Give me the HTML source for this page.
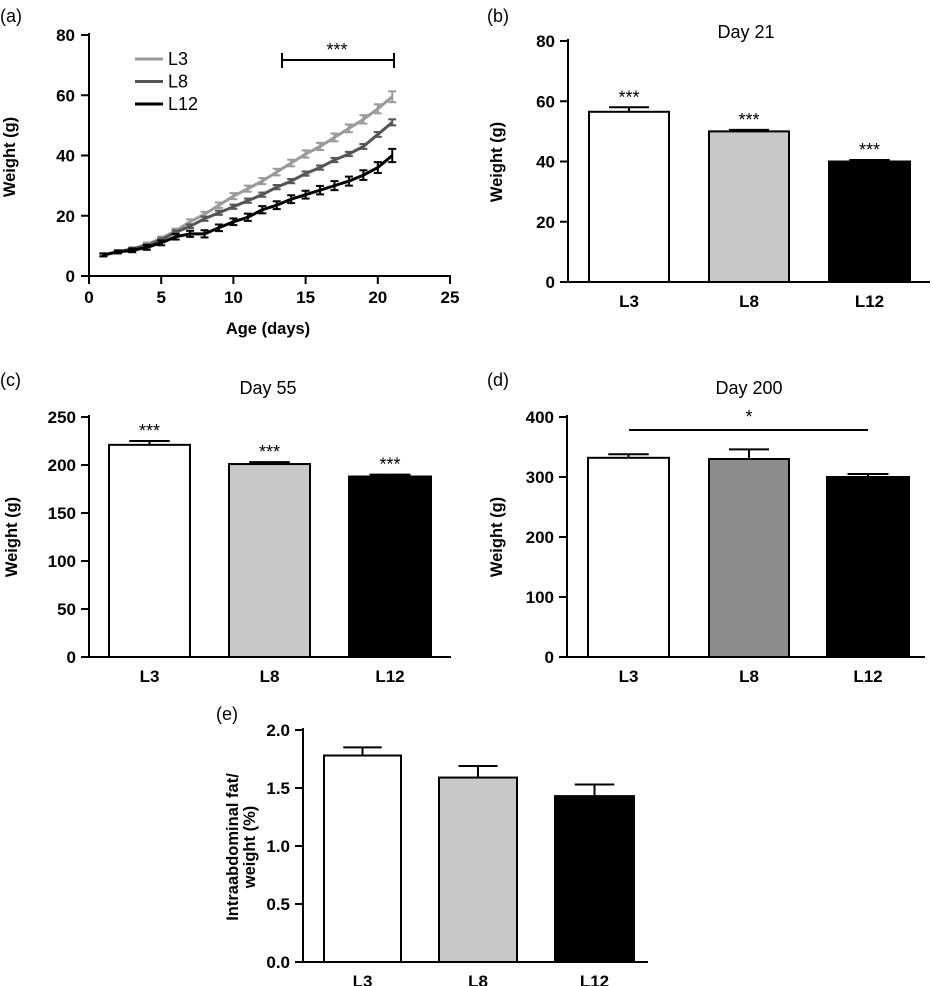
<!DOCTYPE html>
<html><head><meta charset="utf-8">
<style>
html,body{margin:0;padding:0;background:#fff;}
svg{display:block;font-family:"Liberation Sans",Arial,sans-serif;}
.tick{font-size:17px;font-weight:bold;fill:#000;}
.ttl{font-size:16.5px;font-weight:bold;fill:#000;}
.plab{font-size:18px;fill:#000;}
.dt{font-size:18px;fill:#000;}
</style></head>
<body>
<svg id="fig" width="933" height="986" viewBox="0 0 933 986" xmlns="http://www.w3.org/2000/svg"></svg>
<script>
// Panel a data
const days = [1,2,3,4,5,6,7,8,9,10,11,12,13,14,15,16,17,18,19,20,21];
const seriesNames = ["L3","L8","L12"];
const L3w = [7,8,9,10.5,12.5,15,18,20.5,23.5,26.5,29,31.5,34.5,37.5,40.5,43,46,49,52,55.5,59.5];
const L8w = [7,8,9,10,12,14.5,16.5,19,21,23,25,27,29.5,31.5,34,36,38.5,40.5,43,47,51];
const L12w = [7,8,8.5,9.5,11,13,14,14,16,18,19.5,22,23.5,25.5,27,28.5,30,31.5,33.5,36,40];
const L3e = [0.5,0.5,0.5,0.6,0.6,0.7,0.8,0.8,0.9,1,1,1,1.1,1.1,1.2,1.2,1.3,1.3,1.4,1.5,1.8];
const L8e = [0.4,0.4,0.4,0.5,0.5,0.6,0.6,0.7,0.7,0.7,0.7,0.7,0.7,0.7,0.7,0.7,0.7,0.7,0.8,0.8,1];
const L12e = [0.5,0.5,0.6,0.8,0.8,0.9,1,1.2,1.1,1.1,1.2,1.2,1.3,1.3,1.3,1.4,1.5,1.5,1.6,1.8,2.2];
const aXTicks = [0,5,10,15,20,25];
const aYTicks = [0,20,40,60,80];
// Bar panels
const groups = ["L3","L8","L12"];
const bVals = [56.5,50,40], bErr = [1.5,0.5,0.5];
const cVals = [221,201,188], cErr = [4,2,2];
const dVals = [332,330,300], dErr = [6,16,5];
const eVals = [1.78,1.59,1.43], eErr = [0.07,0.10,0.10];
const bTicks = [0,20,40,60,80];
const cTicks = [0,50,100,150,200,250];
const dTicks = [0,100,200,300,400];
const eTicks = ["0.0","0.5","1.0","1.5","2.0"];

const svg = document.getElementById('fig');
const NS = "http://www.w3.org/2000/svg";
function el(tag, attrs, parent){
  const e = document.createElementNS(NS, tag);
  for (const k in attrs) e.setAttribute(k, attrs[k]);
  (parent||svg).appendChild(e);
  return e;
}
function txt(x,y,s,cls,anchor,parent){
  const t = el('text',{x:x,y:y,class:cls,'text-anchor':anchor||'middle'},parent);
  t.textContent = s;
  return t;
}

// ---------- Panel A ----------
const gA = el('g',{});


const ax = v => 89 + (v/25)*(450-89);
const ay = v => 276 - (v/80)*(276-35);
txt(0,22,"(a)","plab","start",gA);
el('line',{x1:89,y1:33,x2:89,y2:277,stroke:'#000','stroke-width':2},gA);
el('line',{x1:81,y1:276,x2:451,y2:276,stroke:'#000','stroke-width':2},gA);
aYTicks.forEach(v=>{
  el('line',{x1:81,y1:ay(v),x2:89,y2:ay(v),stroke:'#000','stroke-width':2},gA);
  const t = txt(75,ay(v)+6,String(v),"tick","end",gA);
  
});
aXTicks.forEach(v=>{
  el('line',{x1:ax(v),y1:276,x2:ax(v),y2:284,stroke:'#000','stroke-width':2},gA);
  const t = txt(ax(v),303,String(v),"tick","middle",gA);
  
});
const at = txt(268,334,"Age (days)","ttl","middle",gA);

const ayt = txt(0,0,"Weight (g)","ttl","middle",gA);
ayt.setAttribute('transform','translate(15,157) rotate(-90)');

const sData = [[L3w,L3e,'#9a9a9a'],[L8w,L8e,'#555'],[L12w,L12e,'#000']];
sData.forEach((s,si)=>{
  const g = el('g',{},gA);
  
  
  const pts = days.map((d,i)=>ax(d)+','+ay(s[0][i])).join(' ');
  el('polyline',{points:pts,fill:'none',stroke:s[2],'stroke-width':3},g);
  days.forEach((d,i)=>{
    const x=ax(d), y1=ay(s[0][i]+s[1][i]), y2=ay(s[0][i]-s[1][i]);
    el('line',{x1:x,y1:y1,x2:x,y2:y2,stroke:s[2],'stroke-width':2},g);
    el('line',{x1:x-4,y1:y1,x2:x+4,y2:y1,stroke:s[2],'stroke-width':2},g);
    el('line',{x1:x-4,y1:y2,x2:x+4,y2:y2,stroke:s[2],'stroke-width':2},g);
  });
  const lg = el('g',{},gA);
  
  
  const ly = 59 + si*22.5;
  el('line',{x1:135,y1:ly,x2:163,y2:ly,stroke:s[2],'stroke-width':3},lg);
  txt(168,ly+6,seriesNames[si],"dt","start",lg);
});
const sigA = el('g',{},gA);


el('line',{x1:282,y1:60,x2:394,y2:60,stroke:'#000','stroke-width':2},sigA);
el('line',{x1:282,y1:53,x2:282,y2:68,stroke:'#000','stroke-width':2},sigA);
el('line',{x1:394,y1:53,x2:394,y2:68,stroke:'#000','stroke-width':2},sigA);
txt(337,56,"***","dt","middle",sigA);

// ---------- Bar panels ----------
const fills = ['#fff','#c8c8c8','#000'];
function barPanel(o){
  const g = el('g',{});
  
  
  const y = v => o.y0 - (v/o.max)*(o.y0-o.ytop);
  txt(o.lx,o.ly,o.label,"plab","start",g);
  if (o.title){ const t=txt(o.tx,o.ty,o.title,"dt","middle",g);  }
  el('line',{x1:o.ax,y1:o.ytop-2,x2:o.ax,y2:o.y0+1,stroke:'#000','stroke-width':2},g);
  el('line',{x1:o.ax-8,y1:o.y0,x2:o.xend,y2:o.y0,stroke:'#000','stroke-width':2},g);
  o.ticks.forEach(tv=>{
    const v = parseFloat(tv);
    el('line',{x1:o.ax-8,y1:y(v),x2:o.ax,y2:y(v),stroke:'#000','stroke-width':2},g);
    const t = txt(o.ax-13,y(v)+6,String(tv),"tick","end",g);
    
  });
  groups.forEach((gn,i)=>{
    const x1=o.bars[i][0], x2=o.bars[i][1], cx=(x1+x2)/2;
    const bg = el('g',{},g);
    
    
    const top = y(o.vals[i]), et = y(o.vals[i]+o.errs[i]);
    el('line',{x1:cx,y1:top,x2:cx,y2:et,stroke:'#000','stroke-width':2},bg);
    el('line',{x1:cx-(x2-x1)*0.25,y1:et,x2:cx+(x2-x1)*0.25,y2:et,stroke:'#000','stroke-width':2},bg);
    el('rect',{x:x1,y:top,width:x2-x1,height:o.y0-top,fill:(o.fills||fills)[i],stroke:'#000','stroke-width':2},bg);
    if (o.stars){ txt(cx,et-4,"***","dt","middle",bg); }
    const l = txt(cx,o.y0+25,gn,"tick","middle",g);
    
  });
  o.ytitle.forEach((line,k)=>{
    const t = txt(0,0,line,"ttl","middle",g);
    t.setAttribute('transform','translate('+(o.ytx+k*17)+','+o.yty+') rotate(-90)');
    
  });
  return {g:g,y:y};
}
barPanel({name:'panel-b',label:'(b)',lx:487,ly:22,title:'Day 21',tx:746,ty:38,ax:568,y0:282,ytop:41,max:80,xend:930,
  ticks:bTicks,vals:bVals,errs:bErr,bars:[[589,669],[709,789],[829,910]],stars:true,ytitle:['Weight (g)'],ytx:502,yty:162});
barPanel({name:'panel-c',label:'(c)',lx:0,ly:386,title:'Day 55',tx:268,ty:394,ax:89,y0:657,ytop:417,max:250,xend:451,
  ticks:cTicks,vals:cVals,errs:cErr,bars:[[109,190],[229,310],[349,431]],stars:true,ytitle:['Weight (g)'],ytx:17,yty:537});
const dp = barPanel({name:'panel-d',label:'(d)',lx:487,ly:386,title:'Day 200',tx:749,ty:394,ax:567,y0:657,ytop:417,max:400,xend:925,
  ticks:dTicks,vals:dVals,errs:dErr,bars:[[588,669],[709,789],[827,909]],fills:['#fff','#8c8c8c','#000'],stars:false,ytitle:['Weight (g)'],ytx:502,yty:537});
const sigD = el('g',{},dp.g);


el('line',{x1:629,y1:430,x2:868,y2:430,stroke:'#000','stroke-width':2},sigD);
txt(749,423,"*","dt","middle",sigD);
barPanel({name:'panel-e',label:'(e)',lx:216,ly:720,title:null,ax:303,y0:962,ytop:730,max:2,xend:648,
  ticks:eTicks,vals:eVals,errs:eErr,bars:[[324,401],[439,517],[555,634]],stars:false,ytitle:['Intraabdominal fat/','weight (%)'],ytx:238,yty:847});
</script>
</body></html>
